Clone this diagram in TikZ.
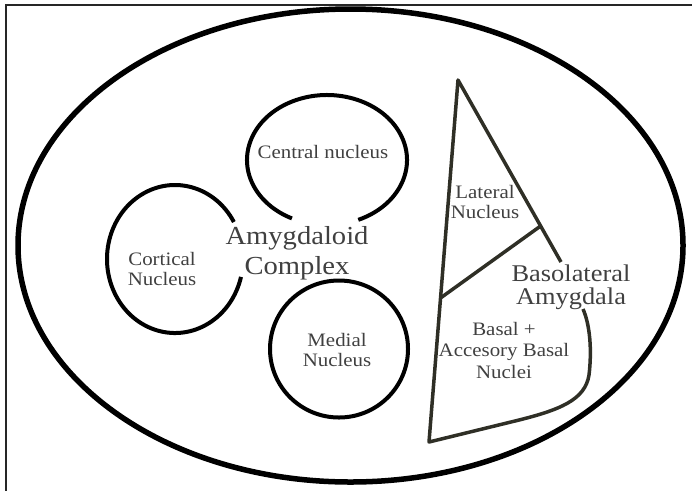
\documentclass[tikz,border=0pt]{standalone}
\usepackage{fontspec}
\setmainfont[FakeStretch=1.1]{Liberation Serif}
\definecolor{blaline}{HTML}{2F2F26}
\definecolor{lbltext}{HTML}{404040}

\begin{document}
\begin{tikzpicture}[x=1pt,y=-1pt,line width=4,
  lbl/.style={align=center,text=lbltext,inner sep=0pt,font=\fontsize{19}{19.5}\selectfont}]
\useasboundingbox (0,0) rectangle (692,491);

% frame and outer ellipse
\draw[line width=2,black!85] (692,5) -- (5.5,5) -- (5.5,491);
\draw[line width=5.5] (350.5,245.5) ellipse[x radius=332.5pt,y radius=236.5pt];

% the three nuclei of the complex
\draw ([shift={(-67:80pt and 65pt)}]327,160) arc[start angle=-67,end angle=244,x radius=80pt,y radius=65pt];
\draw ([shift={(30:68pt and 74pt)}]175,259) arc[start angle=30,end angle=346,x radius=68pt,y radius=74pt];
\draw (339,349) ellipse[x radius=69pt,y radius=68.5pt];

% basolateral part
\coordinate (apex) at (458,80);
\coordinate (corner) at (429,442);
\coordinate (cutR) at (540.6,226);
\coordinate (cutL) at (440.5,298);
\draw[blaline,line width=3.5,line join=round] (561,262) -- (apex) -- (corner) -- (515,421)
  .. controls (560,410) and (585,400) .. (589,375)
  .. controls (592,350) and (590,325) .. (583,309);
\draw[blaline,line width=3.5] (cutR) -- (cutL);

\node[lbl] (central) at (323,152) {Central nucleus};
\node[lbl] (cortical) at (162,269) {Cortical\\Nucleus};
\node[lbl] (medial) at (337,350) {Medial\\Nucleus};
\node[lbl,font=\fontsize{26}{30}\selectfont] (complex) at (297,253) {Amygdaloid\\Complex};
\node[lbl] (lateral) at (485,202) {Lateral\\Nucleus};
\node[lbl,font=\fontsize{24}{23}\selectfont] (baso) at (571,287) {Basolateral\\Amygdala};
\node[lbl,font=\fontsize{19}{21.5}\selectfont] (basal) at (504,350) {Basal +\\Accesory Basal\\Nuclei};

\end{tikzpicture}
\end{document}
